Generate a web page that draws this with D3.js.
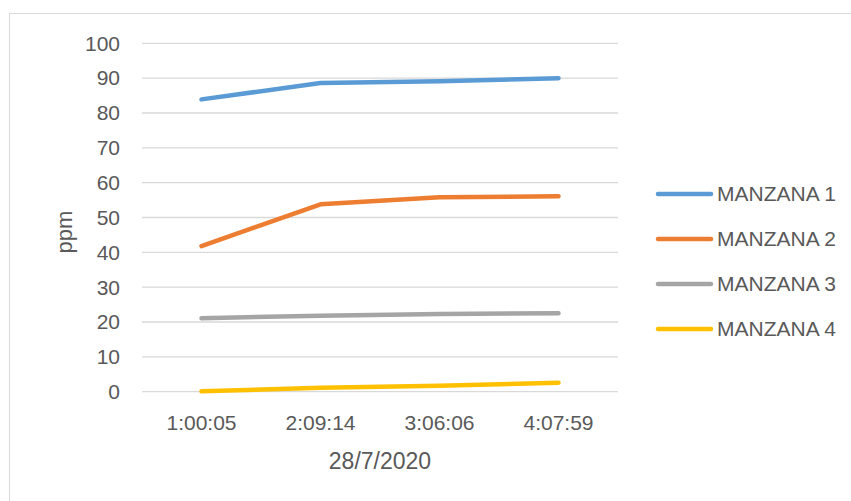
<!DOCTYPE html>
<html>
<head>
<meta charset="utf-8">
<script src="https://cdn.jsdelivr.net/npm/d3@7"></script>
<style>
  body { margin: 0; background: #fff; }
  text { font-family: "Liberation Sans", Arial, sans-serif; fill: #595959; }
</style>
</head>
<body>
<svg width="851" height="501"></svg>
<script>
// data
var times = ["1:00:05", "2:09:14", "3:06:06", "4:07:59"];
var seriesNames = ["MANZANA 1", "MANZANA 2", "MANZANA 3", "MANZANA 4"];
var manzana1 = [83.9, 88.6, 89.1, 90.0];
var manzana2 = [41.8, 53.8, 55.8, 56.1];
var manzana3 = [21.1, 21.8, 22.3, 22.5];
var manzana4 = [0.1, 1.1, 1.7, 2.6];
var yTicks = [0, 10, 20, 30, 40, 50, 60, 70, 80, 90, 100];
var colors = ["#5b9bd5", "#ed7d31", "#a5a5a5", "#ffc000"];

var series = [manzana1, manzana2, manzana3, manzana4].map(function (vals, i) {
  return { name: seriesNames[i], color: colors[i], values: vals };
});

var svg = d3.select("svg");

// chart border (runs off the bottom/right of the picture)
svg.append("rect")
  .attr("x", 9.5).attr("y", 13.5)
  .attr("width", 900).attr("height", 600)
  .attr("fill", "none").attr("stroke", "#d9d9d9").attr("stroke-width", 1);

var x = d3.scaleBand().domain(times).range([142, 618]).padding(0);
var y = d3.scaleLinear().domain([0, 100]).range([391.7, 43.3]);

// gridlines
svg.append("g").selectAll("line")
  .data(yTicks)
  .join("line")
  .attr("x1", 142).attr("x2", 618)
  .attr("y1", function (d) { return y(d); })
  .attr("y2", function (d) { return y(d); })
  .attr("stroke", "#d9d9d9").attr("stroke-width", 1.3);

// y tick labels
svg.append("g").selectAll("text")
  .data(yTicks)
  .join("text")
  .attr("x", 120)
  .attr("y", function (d) { return y(d); })
  .attr("dy", "0.35em")
  .attr("text-anchor", "end")
  .style("font-size", "21px")
  .text(function (d) { return d; });

// x tick labels
svg.append("g").selectAll("text")
  .data(times)
  .join("text")
  .attr("x", function (d) { return x(d) + x.bandwidth() / 2; })
  .attr("y", 423)
  .attr("dy", "0.35em")
  .attr("text-anchor", "middle")
  .style("font-size", "21px")
  .text(function (d) { return d; });

// axis titles
svg.append("text")
  .attr("x", 380).attr("y", 461).attr("dy", "0.35em")
  .attr("text-anchor", "middle")
  .style("font-size", "23px")
  .text("28/7/2020");

svg.append("text")
  .attr("transform", "translate(64,232) rotate(-90)")
  .attr("dy", "0.35em")
  .attr("text-anchor", "middle")
  .style("font-size", "22px")
  .text("ppm");

// lines
var line = d3.line()
  .x(function (d, i) { return x(times[i]) + x.bandwidth() / 2; })
  .y(function (d) { return y(d); });

svg.append("g").selectAll("path")
  .data(series)
  .join("path")
  .attr("d", function (d) { return line(d.values); })
  .attr("fill", "none")
  .attr("stroke", function (d) { return d.color; })
  .attr("stroke-width", 4.5)
  .attr("stroke-linecap", "round")
  .attr("stroke-linejoin", "round");

// legend
var legend = svg.append("g").selectAll("g")
  .data(series)
  .join("g")
  .attr("transform", function (d, i) { return "translate(0," + (194 + i * 45) + ")"; });

legend.append("line")
  .attr("x1", 658).attr("x2", 711)
  .attr("stroke", function (d) { return d.color; })
  .attr("stroke-width", 4.5)
  .attr("stroke-linecap", "round");

legend.append("text")
  .attr("x", 717)
  .attr("dy", "0.35em")
  .style("font-size", "21px")
  .text(function (d) { return d.name; });
</script>
</body>
</html>
